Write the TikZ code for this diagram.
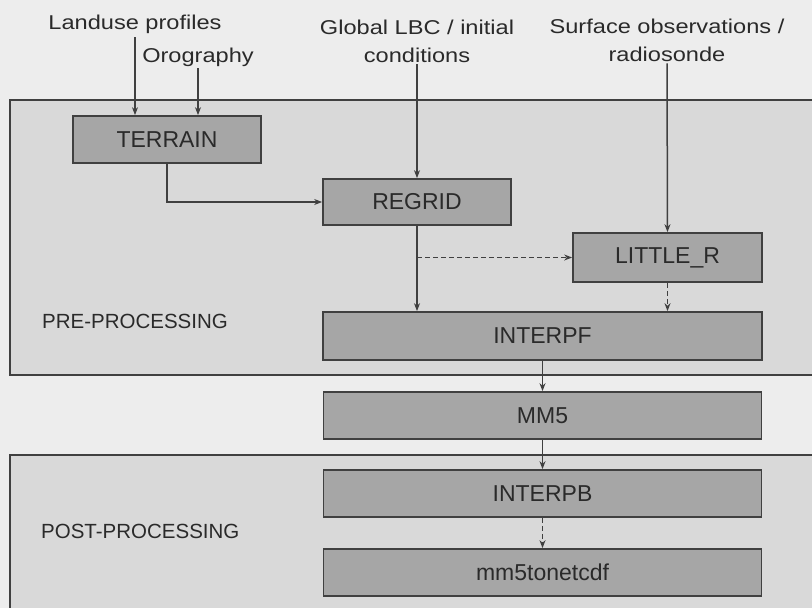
\documentclass[tikz,border=0pt]{standalone}
\usepackage{fontspec}
\setmainfont{Liberation Sans}
\newfontfamily\widefont{Liberation Sans}[FakeStretch=1.18]
\usetikzlibrary{arrows.meta}
\definecolor{bgcol}{HTML}{EDEDED}
\definecolor{panelcol}{HTML}{D9D9D9}
\definecolor{boxcol}{HTML}{A6A6A6}
\definecolor{linecol}{HTML}{404040}
\definecolor{txtcol}{HTML}{2A2A2A}
\tikzset{
  procbox/.style={draw=linecol, line width=1.7pt, fill=boxcol, text=txtcol,
    font=\fontsize{23}{26}\selectfont, inner sep=0pt},
  toplbl/.style={text=txtcol, font=\widefont\fontsize{20}{28}\selectfont, align=center, inner sep=2pt},
  sidelbl/.style={text=txtcol, font=\fontsize{20.5}{24}\selectfont, anchor=base west, inner sep=0pt},
  panel/.style={draw=linecol, line width=1.4pt, fill=panelcol},
  conn/.style={draw=linecol, line width=1.5pt, -{Stealth[length=8pt,width=6pt]}},
  dconn/.style={conn, dash pattern=on 5pt off 3pt}
}
\begin{document}
\begin{tikzpicture}[x=1pt,y=-1pt]
\useasboundingbox (0,0) rectangle (812,608);
\fill[bgcol] (0,0) rectangle (812,608);
\clip (0,0) rectangle (812,608);
% panels
\draw[panel] (10,100) rectangle (830,375);
\draw[panel] (10,455) rectangle (830,630);
\node[sidelbl] (prelbl) at (42,328) {PRE-PROCESSING};
\node[sidelbl] (postlbl) at (41,538) {POST-PROCESSING};
% top labels
\node[toplbl, anchor=base] (landuse) at (135,29) {Landuse profiles};
\node[toplbl, anchor=base] (orog) at (198,62) {Orography};
\node[toplbl, anchor=base] (glob) at (417,62) {Global LBC / initial\\conditions};
\node[toplbl, anchor=base] (surf) at (667,61) {Surface observations /\\radiosonde};
% boxes
\node[procbox, minimum width=188pt, minimum height=47pt] (terrain) at (167,139.5) {TERRAIN};
\node[procbox, minimum width=188pt, minimum height=46pt] (regrid) at (417,202) {REGRID};
\node[procbox, minimum width=189pt, minimum height=49pt] (littler) at (667.5,257.5) {LITTLE\_R};
\node[procbox, minimum width=439pt, minimum height=48pt] (interpf) at (542.5,336) {INTERPF};
\node[procbox, minimum width=438pt, minimum height=47pt] (mm5) at (542.5,415.5) {MM5};
\node[procbox, minimum width=438pt, minimum height=47pt] (interpb) at (542.5,493.5) {INTERPB};
\node[procbox, minimum width=438pt, minimum height=47pt] (netcdf) at (542.5,572.5) {mm5tonetcdf};
% connectors
\draw[conn] (135,37) -- (135,0 |- terrain.north);
\draw[conn] (orog.south) -- (orog.south |- terrain.north);
\draw[conn] (glob.south) -- (regrid.north);
\draw[conn] (surf.south) -- (littler.north);
\draw[conn] (terrain.south) |- (regrid.west);
\draw[conn] (regrid.south) -- (regrid.south |- interpf.north);
\draw[dconn] (regrid.south |- littler.west) -- (littler.west);
\draw[dconn] (littler.south) -- (littler.south |- interpf.north);
\draw[conn] (interpf.south) -- (mm5.north);
\draw[conn] (mm5.south) -- (interpb.north);
\draw[dconn] (interpb.south) -- (netcdf.north);
\end{tikzpicture}
\end{document}
